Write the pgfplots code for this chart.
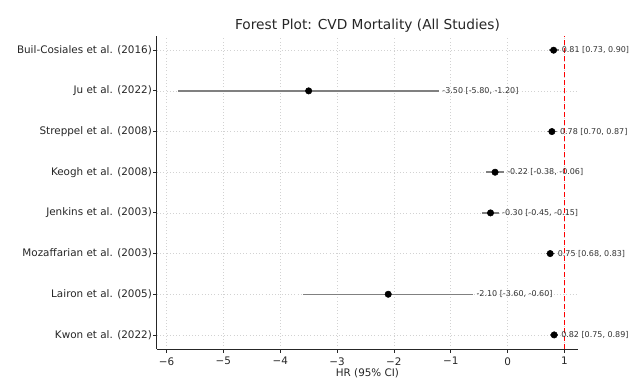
\documentclass[border=0pt]{standalone}
\usepackage{fontspec}
\setmainfont{DejaVu Sans}
\usepackage{pgfplots}
\usepackage{pgfplotstable}
\pgfplotsset{compat=1.18}
\definecolor{txt}{HTML}{262626}
\definecolor{ann}{HTML}{333333}
\definecolor{ebar}{HTML}{808080}

\pgfplotstableread[col sep=semicolon]{
y;hr;lo;hi;ep;em;lab
7;0.81;0.73;0.90;0.09;0.08;0.81 [0.73, 0.90]
6;-3.50;-5.80;-1.20;2.30;2.30;-3.50 [-5.80, -1.20]
5;0.78;0.70;0.87;0.09;0.08;0.78 [0.70, 0.87]
4;-0.22;-0.38;-0.06;0.16;0.16;-0.22 [-0.38, -0.06]
3;-0.30;-0.45;-0.15;0.15;0.15;-0.30 [-0.45, -0.15]
2;0.75;0.68;0.83;0.08;0.07;0.75 [0.68, 0.83]
1;-2.10;-3.60;-0.60;1.50;1.50;-2.10 [-3.60, -0.60]
0;0.82;0.75;0.89;0.07;0.07;0.82 [0.75, 0.89]
}\data

\begin{document}
\begin{tikzpicture}
\begin{axis}[
  width=316pt, height=235pt, scale only axis,
  xmin=-6.17, xmax=1.24, ymin=-0.35, ymax=7.35,
  axis x line*=bottom, axis y line*=left,
  axis line style={txt, line width=0.8pt, -},
  xtick={-6,-5,-4,-3,-2,-1,0,1},
  xticklabels={−6,−5,−4,−3,−2,−1,0,1},
  ytick={0,1,2,3,4,5,6,7},
  yticklabels={Kwon et al. (2022),Lairon et al. (2005),Mozaffarian et al. (2003),Jenkins et al. (2003),Keogh et al. (2008),Streppel et al. (2008),Ju et al. (2022),Buil-Cosiales et al. (2016)},
  tick label style={font=\fontsize{7.8}{9}\selectfont, text=txt},
  yticklabel style={inner xsep=1pt},
  tick style={txt, line width=0.6pt},
  tick align=outside, major tick length=2.6pt,
  grid=major,
  major grid style={gray!35, dotted, line width=0.5pt},
  title={Forest Plot: CVD Mortality (All Studies)},
  title style={font=\fontsize{10.3}{12}\selectfont, text=txt, yshift=-7pt},
  xlabel={HR (95\% CI)},
  xlabel style={font=\fontsize{7.8}{9}\selectfont, text=txt, yshift=4pt},
  clip=false,
]
\addplot[draw=none, mark=none, forget plot,
  error bars/.cd, x dir=both, x explicit,
  error mark=none, error bar style={ebar, line width=1.1pt}]
  table[x=hr, y=y, x error plus=ep, x error minus=em] {\data};
\addplot[red, dash pattern=on 4pt off 2pt, line width=1.3pt, forget plot] coordinates {(1,-0.35) (1,7.35)};
\addplot[only marks, mark=*, mark size=2.4pt, black, forget plot]
  table[x=hr, y=y] {\data};
\addplot[draw=none, mark=none, forget plot,
  nodes near coords, point meta=explicit symbolic,
  every node near coord/.append style={anchor=west, inner sep=0pt, text=ann,
    font=\fontsize{6}{7}\selectfont}]
  table[x expr=\thisrow{hi}+0.05, y=y, meta=lab] {\data};
\end{axis}
\pgfresetboundingbox
\path (current axis.south west) ++(-117.75pt,-26.25pt) coordinate (bl);
\path (current axis.north east) ++(48pt,27pt) coordinate (tr);
\path[use as bounding box] (bl) rectangle (tr);
\end{tikzpicture}
\end{document}
